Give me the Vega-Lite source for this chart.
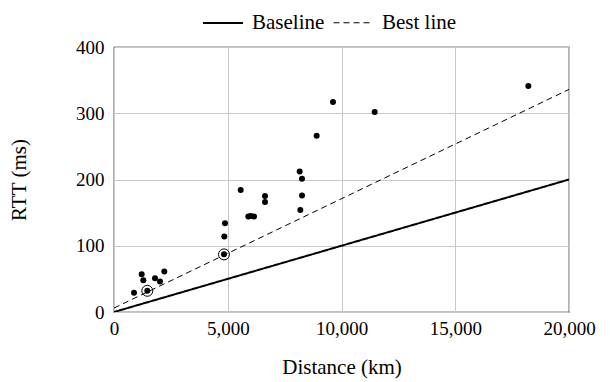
{
  "$schema": "https://vega.github.io/schema/vega-lite/v6.json",
  "autosize": "none",
  "width": 455,
  "height": 265,
  "padding": {"left": 114, "top": 47, "right": 41, "bottom": 70},
  "background": "white",
  "config": {
    "font": "'Liberation Serif', 'Times New Roman', Times, 'DejaVu Serif', serif",
    "view": {"stroke": "black", "strokeWidth": 1.2},
    "axis": {
      "grid": true,
      "gridColor": "#c8c8c8",
      "gridWidth": 1,
      "domain": false,
      "ticks": false,
      "labelFlush": false,
      "labelOverlap": false,
      "labelFont": "'Liberation Serif', 'Times New Roman', Times, 'DejaVu Serif', serif",
      "labelFontSize": 19,
      "labelColor": "black",
      "titleFont": "'Liberation Serif', 'Times New Roman', Times, 'DejaVu Serif', serif",
      "titleFontSize": 21,
      "titleFontWeight": "normal",
      "titleColor": "black"
    }
  },
  "datasets": {
    "points": [
      {"distance": 879, "rtt": 29, "ring": false},
      {"distance": 1217, "rtt": 57, "ring": false},
      {"distance": 1288, "rtt": 48, "ring": false},
      {"distance": 1464, "rtt": 32, "ring": true},
      {"distance": 1802, "rtt": 51, "ring": false},
      {"distance": 2022, "rtt": 46, "ring": false},
      {"distance": 2211, "rtt": 61, "ring": false},
      {"distance": 4835, "rtt": 87, "ring": true},
      {"distance": 4848, "rtt": 114, "ring": false},
      {"distance": 4879, "rtt": 134, "ring": false},
      {"distance": 5568, "rtt": 184, "ring": false},
      {"distance": 5905, "rtt": 144, "ring": false},
      {"distance": 6007, "rtt": 145, "ring": false},
      {"distance": 6154, "rtt": 144, "ring": false},
      {"distance": 6637, "rtt": 175, "ring": false},
      {"distance": 6637, "rtt": 166, "ring": false},
      {"distance": 8161, "rtt": 212, "ring": false},
      {"distance": 8264, "rtt": 201, "ring": false},
      {"distance": 8264, "rtt": 176, "ring": false},
      {"distance": 8190, "rtt": 154, "ring": false},
      {"distance": 8909, "rtt": 266, "ring": false},
      {"distance": 9626, "rtt": 317, "ring": false},
      {"distance": 11458, "rtt": 302, "ring": false},
      {"distance": 18212, "rtt": 341, "ring": false}
    ],
    "lines": [
      {"series": "Baseline", "distance": 0, "rtt": 0},
      {"series": "Baseline", "distance": 20000, "rtt": 200},
      {"series": "Best line", "distance": 0, "rtt": 6},
      {"series": "Best line", "distance": 20000, "rtt": 336}
    ]
  },
  "layer": [
    {
      "data": {"name": "lines"},
      "mark": {"type": "line", "color": "black", "clip": true},
      "encoding": {
        "x": {
          "field": "distance", "type": "quantitative",
          "scale": {"domain": [0, 20000], "nice": false},
          "axis": {"values": [0, 5000, 10000, 15000, 20000], "format": ",d", "labelPadding": 7, "title": "Distance (km)", "titlePadding": 18}
        },
        "y": {
          "field": "rtt", "type": "quantitative",
          "scale": {"domain": [0, 400], "nice": false},
          "axis": {"values": [0, 100, 200, 300, 400], "labelPadding": 10, "title": "RTT (ms)", "titlePadding": 46}
        },
        "strokeDash": {
          "field": "series", "type": "nominal",
          "scale": {"domain": ["Baseline", "Best line"], "range": [[1, 0], [6, 4]]},
          "legend": {
            "title": null,
            "orient": "none",
            "direction": "horizontal",
            "legendX": 88,
            "legendY": -45,
            "symbolType": "stroke",
            "symbolSize": 1600,
            "symbolStrokeColor": "black",
            "symbolStrokeWidth": 1.6,
            "labelFont": "'Liberation Serif', 'Times New Roman', Times, 'DejaVu Serif', serif",
            "labelFontSize": 21,
            "labelColor": "black",
            "labelOffset": 8,
            "columnPadding": 6,
            "labelLimit": 200
          }
        },
        "strokeWidth": {
          "field": "series", "type": "nominal",
          "scale": {"domain": ["Baseline", "Best line"], "range": [2, 1]},
          "legend": null
        }
      }
    },
    {
      "data": {"name": "points"},
      "mark": {"type": "point", "filled": true, "color": "black", "opacity": 1, "size": 36},
      "encoding": {
        "x": {"field": "distance", "type": "quantitative"},
        "y": {"field": "rtt", "type": "quantitative"}
      }
    },
    {
      "data": {"name": "points"},
      "transform": [{"filter": "datum.ring"}],
      "mark": {"type": "point", "filled": false, "color": "black", "opacity": 1, "size": 120, "strokeWidth": 1},
      "encoding": {
        "x": {"field": "distance", "type": "quantitative"},
        "y": {"field": "rtt", "type": "quantitative"}
      }
    }
  ]
}
